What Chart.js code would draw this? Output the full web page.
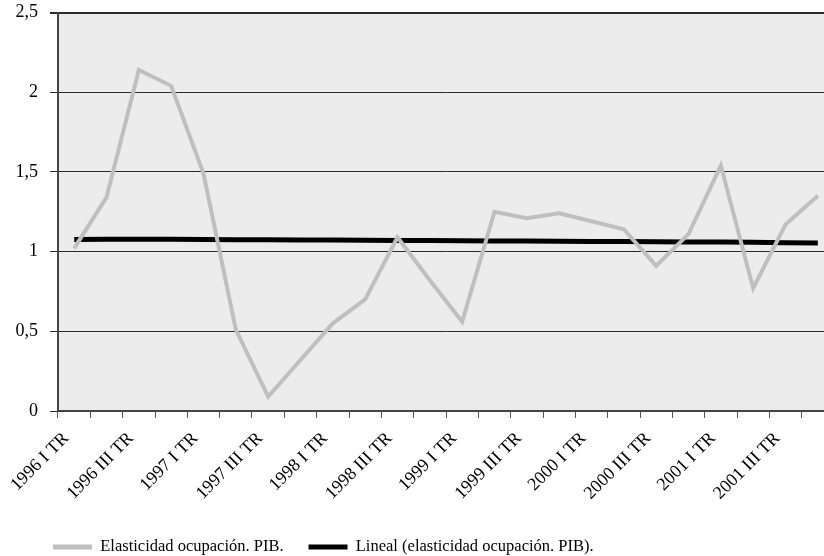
<!DOCTYPE html>
<html>
<head>
<meta charset="utf-8">
<script src="https://cdn.jsdelivr.net/npm/chart.js@4"></script>
<style>
  html, body { margin: 0; padding: 0; background: #ffffff; overflow: hidden; width: 824px; height: 556px; }
  canvas { display: block; }
</style>
</head>
<body>
<canvas id="c" width="834" height="556" style="width:834px;height:556px"></canvas>
<script>
const quarters = [
  "1996 I TR","1996 II TR","1996 III TR","1996 IV TR",
  "1997 I TR","1997 II TR","1997 III TR","1997 IV TR",
  "1998 I TR","1998 II TR","1998 III TR","1998 IV TR",
  "1999 I TR","1999 II TR","1999 III TR","1999 IV TR",
  "2000 I TR","2000 II TR","2000 III TR","2000 IV TR",
  "2001 I TR","2001 II TR","2001 III TR","2001 IV TR"
];
const elasticidad = [1.02, 1.34, 2.14, 2.04, 1.49, 0.51, 0.09, 0.32, 0.55, 0.70, 1.09, 0.82,
                     0.56, 1.25, 1.21, 1.24, 1.19, 1.14, 0.91, 1.11, 1.54, 0.77, 1.17, 1.35];
const lineal = [1.076, 1.077, 1.077, 1.077, 1.076, 1.075, 1.074, 1.073, 1.072, 1.071, 1.070, 1.069,
                1.068, 1.067, 1.066, 1.065, 1.064, 1.063, 1.062, 1.061, 1.060, 1.058, 1.056, 1.054];
const yTicks = [0, 0.5, 1, 1.5, 2, 2.5];
const seriesNames = ["Elasticidad ocupación. PIB.", "Lineal (elasticidad ocupación. PIB)."];

const plotBg = {
  id: 'plotBg',
  beforeDraw(chart) {
    const a = chart.chartArea, ctx = chart.ctx;
    ctx.save();
    ctx.fillStyle = '#ececec';
    ctx.fillRect(a.left, a.top, a.right - a.left, a.bottom - a.top);
    ctx.restore();
  }
};
const legendPlace = {
  id: 'legendPlace',
  afterLayout(chart) {
    const lg = chart.legend;
    if (!lg) return;
    const w = lg.right - lg.left, h = lg.bottom - lg.top;
    lg.left = 28; lg.right = lg.left + w;
    lg.top = 513.75; lg.bottom = lg.top + h;
  }
};

const serif = "'Liberation Serif', 'Times New Roman', serif";

new Chart(document.getElementById('c'), {
  type: 'line',
  data: {
    labels: quarters,
    datasets: [
      { label: seriesNames[0], data: elasticidad, borderColor: '#bfbfbf', backgroundColor: '#bfbfbf',
        borderWidth: 4, pointRadius: 0, tension: 0, borderJoinStyle: 'miter' },
      { label: seriesNames[1], data: lineal, borderColor: '#000000', backgroundColor: '#000000',
        borderWidth: 5, pointRadius: 0, tension: 0 }
    ]
  },
  options: {
    responsive: false,
    animation: false,
    layout: { padding: { left: 0, right: 0, top: 0, bottom: 0 } },
    plugins: {
      tooltip: { enabled: false },
      legend: {
        position: 'bottom',
        align: 'start',
        labels: {
          font: { family: serif, size: 16.5 },
          color: '#000',
          boxWidth: 39,
          boxHeight: 5,
          padding: 25,
          generateLabels(chart) {
            return Chart.defaults.plugins.legend.labels.generateLabels(chart)
              .map(it => Object.assign(it, { lineWidth: 0 }));
          }
        }
      }
    },
    scales: {
      x: {
        offset: true,
        grid: { offset: true, drawOnChartArea: false, drawTicks: true, tickLength: 7, color: '#555', lineWidth: 1 },
        border: { color: '#444', width: 2 },
        afterFit(axis) { axis.height = 93.5; axis.paddingLeft = 0; axis.paddingRight = 0; },
        ticks: {
          autoSkip: false, maxRotation: 45, minRotation: 45, color: '#000',
          font: { family: serif, size: 18 }, padding: 10, labelOffset: -8,
          callback: function(v, i) { return i % 2 === 0 ? quarters[i] : ''; }
        }
      },
      y: {
        min: 0, max: 2.5,
        afterBuildTicks(axis) { axis.ticks = yTicks.map(v => ({ value: v })); },
        afterFit(axis) { axis.width = 58; axis.paddingTop = 12.5; axis.paddingBottom = 0; },
        grid: {
          color: '#2a2a2a', tickLength: 8,
          lineWidth: ctx => (ctx.tick && ctx.tick.value === 2.5 ? 2 : 1)
        },
        border: { color: '#444', width: 2 },
        ticks: {
          color: '#000', font: { family: serif, size: 18 }, padding: 12,
          callback: v => String(v).replace('.', ',')
        }
      }
    }
  },
  plugins: [plotBg, legendPlace]
});
</script>
</body>
</html>
